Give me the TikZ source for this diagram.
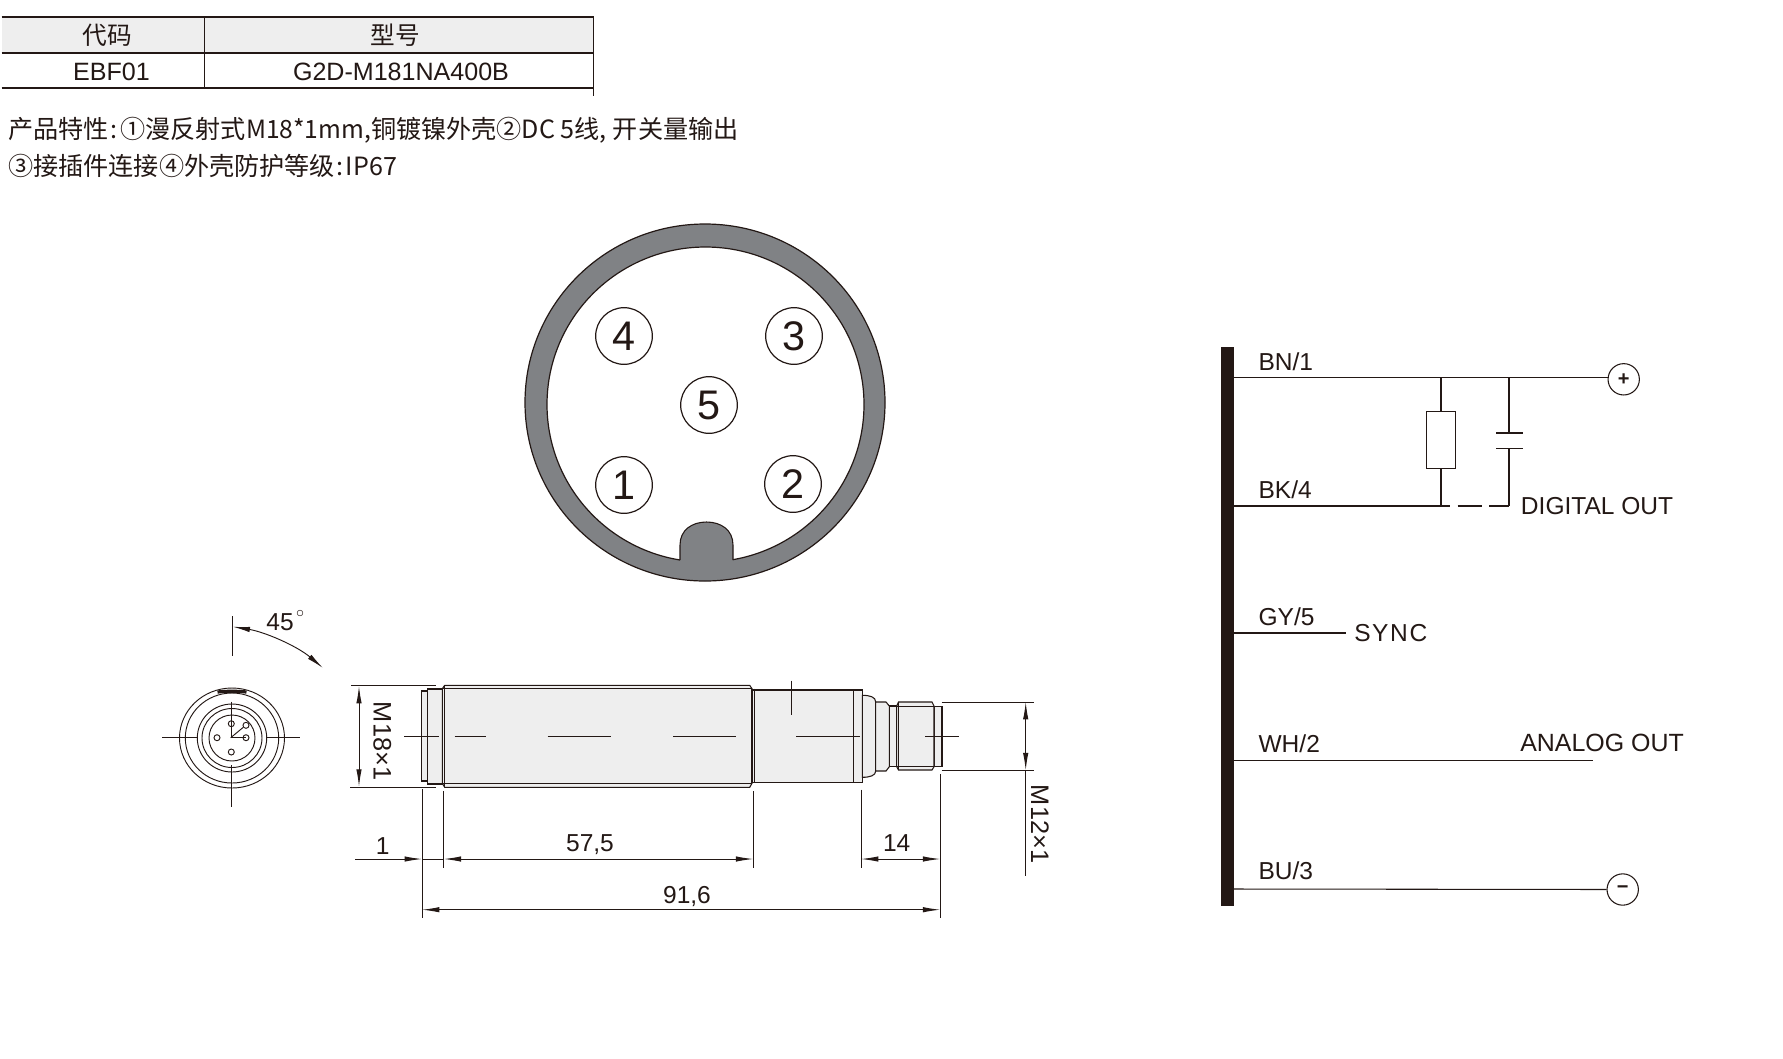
\documentclass[tikz,border=0pt]{standalone}
\usepackage{fontspec}
\setmainfont{Liberation Sans}
\newfontfamily\cjk{Noto Sans CJK SC}
\newfontfamily\cjklat[FakeStretch=.98]{Noto Sans CJK SC}
\usetikzlibrary{arrows.meta}
\definecolor{ink}{HTML}{231815}
\definecolor{ringgray}{HTML}{808285}
\definecolor{bodygray}{HTML}{EEEEEE}
\newcommand{\lblfont}{\fontsize{18.4}{22}\selectfont}
\tikzset{
    lbl/.style={font=\lblfont, text=ink, inner sep=0pt, anchor=base},
    lblw/.style={lbl, anchor=base west},
    tablbl/.style={lbl, font=\fontsize{18.8}{22}\selectfont},
    rotlbl/.style={lbl, font=\fontsize{19}{22}\selectfont, rotate=-90},
    headlbl/.style={font=\cjk\fontsize{18.5}{22}\selectfont, text=ink, inner sep=0pt},
    info/.style={font=\cjk\fontsize{18.85}{22}\selectfont, text=ink, inner sep=0pt, anchor=base west},
    pinhole/.style={draw=ink, circle, line width=.9pt, minimum size=42.5pt, inner sep=0pt, font=\fontsize{31}{34}\selectfont, text=ink},
    supply/.style={draw=ink, circle, line width=.8pt, minimum size=23.5pt, inner sep=0pt, font=\bfseries\fontsize{15}{15}\selectfont, text=ink},
    line/.style={draw=ink, line width=.8pt},
    thin line/.style={draw=ink, line width=.7pt},
    part/.style={draw=ink, fill=bodygray, line width=.8pt},
    dim/.style={draw=ink, line width=.7pt, {Latex[length=13pt,width=4pt]}-{Latex[length=13pt,width=4pt]}},
    dimend/.style={draw=ink, line width=.7pt, -{Latex[length=13pt,width=4pt]}},
}
\begin{document}
\begin{tikzpicture}[x=.75pt, y=-.75pt]

    \fill[white] (0, 0) rectangle (1783, 1058);
    \useasboundingbox (0, 0) rectangle (1783, 1058);

    \fill[bodygray] (1.5, 17) rectangle (593.5, 53);
    \draw[line] (1.5, 17) -- (593.5, 17);
    \draw[line] (1.5, 53) -- (593.5, 53);
    \draw[line] (1.5, 88) -- (593.5, 88);
    \draw[line] (204.5, 17) -- (204.5, 88);
    \draw[line] (593.5, 17) -- (593.5, 96);

    \node[headlbl] (codehead) at (107, 35) {代码};
    \node[headlbl] (typehead) at (395, 35) {型号};
    \node[tablbl] (codeval) at (111.5, 80) {EBF01};
    \node[tablbl] (typeval) at (401, 80) {G2D-M181NA400B};

    \node[info] (feat1) at (8, 138) {产品特性\kern1.5pt:\kern2pt①漫反射式{\cjklat M18*1mm,}铜镀镍外壳②DC 5线,\kern4.5pt开关量输出};
    \node[info] (feat2) at (8, 175) {③接插件连接④外壳防护等级\kern1.5pt:\kern1.5pt IP67};

    \draw[line, line width=.9pt, fill=ringgray] (705, 402.5) ellipse [x radius=180, y radius=178.5];
    \draw[line, line width=.9pt, fill=white] (705.5, 404.5) ellipse [x radius=158.5, y radius=157.5];
    \fill[ringgray] (680, 566) -- (680, 545) .. controls (680, 530) and (692, 522) .. (706.5, 522) .. controls (721, 522) and (733, 530) .. (733, 545) -- (733, 566) -- cycle;
    \draw[line] (680, 560) -- (680, 545) .. controls (680, 530) and (692, 522) .. (706.5, 522) .. controls (721, 522) and (733, 530) .. (733, 545) -- (733, 560);

    \node[pinhole] (p4) at (624, 336) {4};
    \node[pinhole] (p3) at (794, 336) {3};
    \node[pinhole] (p5) at (709, 405) {5};
    \node[pinhole] (p1) at (624, 485) {1};
    \node[pinhole] (p2) at (793, 484) {2};

    \draw[thin line] (232, 738) ellipse [x radius=52.5, y radius=50];
    \draw[thin line] (232, 738) ellipse [x radius=46.7, y radius=45];
    \draw[thin line] (232, 738) ellipse [x radius=34.7, y radius=34];
    \draw[thin line] (232, 738) ellipse [x radius=30, y radius=29.5];
    \draw[thin line] (232, 738) ellipse [x radius=23, y radius=23];
    \draw[thin line] (231.3, 723.7) circle (3);
    \draw[thin line] (217, 737.7) circle (3);
    \draw[thin line] (246, 737.7) circle (3);
    \draw[thin line] (231.3, 752) circle (3);
    \draw[thin line] (246, 725.3) circle (3);
    \draw[draw=ink, line width=2.4pt] (217.5, 692) .. controls (226, 691) and (238, 691) .. (246.5, 692);
    \draw[thin line] (162, 737.7) -- (197, 737.7);
    \draw[thin line] (266, 737.7) -- (300, 737.7);
    \draw[thin line] (231.3, 701.7) -- (231.3, 737.7);
    \draw[thin line] (231.3, 765) -- (231.3, 806.7);
    \draw[thin line] (230.7, 737.7) -- (243.3, 727.3);
    \draw[thin line] (230.7, 737.7) -- (246, 737.7);

    \draw[thin line] (232, 616) -- (232, 656);
    \draw[dim] (232.7, 626.7) .. controls (265, 632) and (297, 646) .. (323, 668);
    \node[lbl] (angle) at (280, 630) {45};
    \node[font=\fontsize{12}{12}\selectfont, text=ink, inner sep=0pt] (deg) at (300, 614) {$\circ$};

    \draw[part] (421.7, 691) rectangle (427.7, 781);
    \draw[part] (427.7, 689) rectangle (442.3, 784);
    \draw[part] (442.3, 688.7) -- (444.7, 685.3) -- (749.7, 685.3) -- (752, 688.7) -- (752, 783.3) -- (749.7, 787.3) -- (444.7, 787.3) -- (442.3, 783.3) -- cycle;
    \draw[line] (444.7, 685.3) -- (444.7, 787.3);
    \draw[line] (442.3, 688.7) -- (752, 688.7);
    \draw[line] (442.3, 783.3) -- (752, 783.3);
    \draw[part] (752, 690) rectangle (862.3, 782.7);
    \draw[line] (754.3, 688.7) -- (754.3, 783.3);
    \draw[line] (853.7, 690) -- (853.7, 782.7);
    \draw[part] (862.3, 695.3) .. controls (870, 695.3) and (875.7, 697) .. (875.7, 702) -- (875.7, 771) .. controls (875.7, 775.5) and (870, 777.3) .. (862.3, 777.3) -- cycle;
    \draw[part] (875.7, 702) -- (886, 702) -- (889.3, 706) -- (889.3, 766.7) -- (886, 771) -- (875.7, 771) -- cycle;
    \draw[part] (889.3, 706) rectangle (896.7, 766.7);
    \draw[part] (934, 706.7) rectangle (942, 766.3);
    \draw[part] (896.7, 706) -- (898.5, 702) -- (932, 702) -- (934, 706) -- (934, 766.7) -- (932, 770) -- (898.5, 770) -- (896.7, 766.7) -- cycle;
    \draw[thin line] (896.7, 706) -- (934, 706);
    \draw[thin line] (896.7, 766.7) -- (934, 766.7);
    \draw[thin line] (898.5, 702) -- (898.5, 770);

    \draw[thin line] (404, 736.3) -- (439, 736.3);
    \draw[thin line] (454.7, 736.3) -- (486.3, 736.3);
    \draw[thin line] (547.7, 736.3) -- (610.7, 736.3);
    \draw[thin line] (673, 736.3) -- (735.7, 736.3);
    \draw[thin line] (796, 736.3) -- (859.7, 736.3);
    \draw[thin line] (925, 736.3) -- (959, 736.3);
    \draw[thin line] (791, 680.7) -- (791, 715.3);

    \draw[thin line] (351, 685.7) -- (436, 685.7);
    \draw[thin line] (350, 787) -- (436, 787);
    \draw[dim] (359, 686) -- (359, 786.7);
    \node[rotlbl] (m18) at (373.5, 741) {M18×1};

    \draw[thin line] (941.7, 702) -- (1034, 702);
    \draw[thin line] (941.7, 770.3) -- (1034, 770.3);
    \draw[dim] (1025.7, 702) -- (1025.7, 770.3);
    \draw[thin line] (1025.7, 770.3) -- (1025.7, 876);
    \node[rotlbl] (m12) at (1031, 824) {M12×1};

    \draw[thin line] (422, 789) -- (422, 918.3);
    \draw[thin line] (443.7, 791) -- (443.7, 868.3);
    \draw[thin line] (753.3, 791) -- (753.3, 868.3);
    \draw[thin line] (861, 789.7) -- (861, 867.7);
    \draw[thin line] (940.3, 774) -- (940.3, 918.3);

    \draw[dimend] (355.3, 859) -- (422, 859);
    \draw[thin line] (422, 859) -- (443.7, 859);
    \draw[dim] (443.7, 859) -- (753.3, 859);
    \draw[dim] (861, 859) -- (940.3, 859);
    \draw[dim] (422, 909.7) -- (940.3, 909.7);

    \node[lbl] (d1) at (382.7, 854) {1};
    \node[lbl] (d575) at (590, 851) {57,5};
    \node[lbl] (d14) at (896.7, 851) {14};
    \node[lbl] (d916) at (687, 903) {91,6};

    \fill[ink] (1220.5, 347.3) rectangle (1234, 906);

    \node[supply] (plus) at (1623.7, 379.3) {+};
    \node[supply] (minus) at (1622.7, 889.5) {−};

    \coordinate (bn) at (1234, 377.3);
    \coordinate (bk) at (1234, 506);
    \coordinate (gy) at (1234, 633);
    \coordinate (wh) at (1234, 760.7);
    \coordinate (bu) at (1234, 889);
    \coordinate (syncend) at (1345.7, 633);
    \coordinate (analogend) at (1592.7, 760.7);
    \coordinate (rtop) at (1441, 377.3);
    \coordinate (rbot) at (1441, 506);
    \coordinate (ctop) at (1509, 377.3);
    \coordinate (cbot) at (1509, 506);
    \coordinate (cu) at (1509, 433);
    \coordinate (cl) at (1509, 448.3);

    \node[draw=ink, line width=.8pt, minimum width=21.4pt, minimum height=42.5pt, inner sep=0pt] (res) at (1441, 440) {};

    \draw[line] (bn) -- (plus.west |- bn);
    \draw[line] (bk) -- (rbot);
    \draw[line] (rbot) -- (1450, 506);
    \draw[line] (1457.7, 506) -- (1481.7, 506);
    \draw[line] (1489.3, 506) -- (cbot);
    \draw[line] (gy) -- (syncend);
    \draw[line] (wh) -- (analogend);
    \draw[line] (bu) -- (minus);
    \draw[line] (rtop) -- (res);
    \draw[line] (res) -- (rbot);
    \draw[line] (ctop) -- (cu);
    \draw[line] (cl) -- (cbot);
    \draw[line] (1496, 433) -- (1522.7, 433);
    \draw[line] (1496, 448.3) -- (1522.7, 448.3);

    \node[lblw] (bnlbl) at (1258.3, 370.5) {BN/1};
    \node[lblw] (bklbl) at (1258.3, 498.5) {BK/4};
    \node[lblw] (gylbl) at (1258.3, 625) {GY/5};
    \node[lblw] (whlbl) at (1258.3, 752) {WH/2};
    \node[lblw] (bulbl) at (1258.3, 879.5) {BU/3};
    \node[lblw] (digital) at (1520.7, 514) {DIGITAL OUT};
    \node[lblw] (syncl) at (1354, 641) {S\kern1.2pt Y\kern1.2pt N\kern1.2pt C};
    \node[lblw, font=\fontsize{18.7}{22}\selectfont] (analog) at (1520, 751.5) {ANALOG OUT};

\end{tikzpicture}
\end{document}
